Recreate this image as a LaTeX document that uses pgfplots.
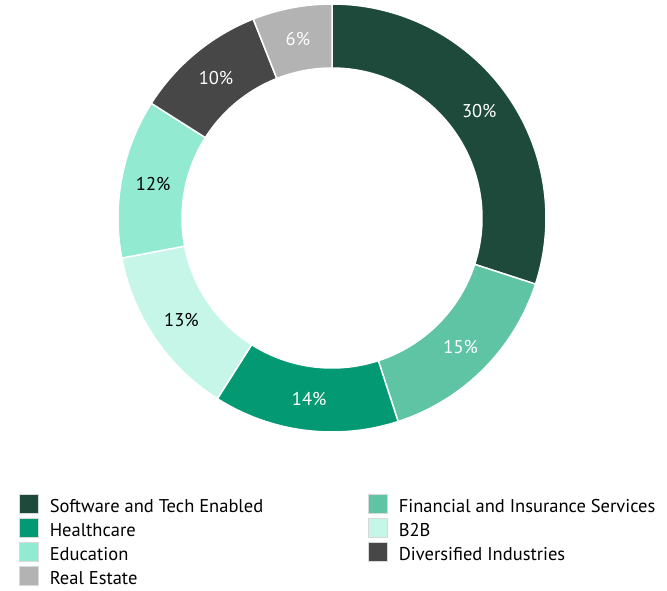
\documentclass[border=0pt]{standalone}
\usepackage{pgfplots}
\usepackage{pgfplotstable}
\usepackage{fontspec}
\setmainfont{PT Sans}
\pgfplotsset{compat=1.18}
\definecolor{c0}{HTML}{1E4A3C}
\definecolor{c1}{HTML}{5EC4A3}
\definecolor{c2}{HTML}{039972}
\definecolor{c3}{HTML}{C6F6E8}
\definecolor{c4}{HTML}{92EAD0}
\definecolor{c5}{HTML}{474747}
\definecolor{c6}{HTML}{B3B3B3}

\pgfplotstableread[col sep=comma]{
name,value,txt
Software and Tech Enabled,30,white
Financial and Insurance Services,15,white
Healthcare,14,white
B2B,13,black
Education,12,black
Diversified Industries,10,white
Real Estate,6,white
}\datatable

\newcommand\cx{332}
\newcommand\cy{372}
\newcommand\Ro{214}
\newcommand\Ri{150}
\newcommand\Rl{182}

\def\cum{0}
\pgfplotsforeachungrouped \i in {0,...,6}{%
  \pgfplotstablegetelem{\i}{value}\of\datatable
  \let\v\pgfplotsretval
  \pgfmathsetmacro\a{90-3.6*\cum}%
  \pgfmathsetmacro\cum{\cum+\v}%
  \pgfmathsetmacro\b{90-3.6*\cum}%
  \pgfmathsetmacro\m{(\a+\b)/2}%
  \expandafter\xdef\csname sa\i\endcsname{\a}%
  \expandafter\xdef\csname sb\i\endcsname{\b}%
  \expandafter\xdef\csname sm\i\endcsname{\m}%
  \expandafter\xdef\csname val\i\endcsname{\v}%
  \pgfplotstablegetelem{\i}{txt}\of\datatable
  \expandafter\xdef\csname tc\i\endcsname{\pgfplotsretval}%
  \pgfplotstablegetelem{\i}{name}\of\datatable
  \expandafter\xdef\csname nm\i\endcsname{\pgfplotsretval}%
}

\begin{document}
\begin{tikzpicture}
\begin{axis}[
  width=667pt, height=590pt, scale only axis,
  xmin=0, xmax=667, ymin=0, ymax=590,
  hide axis, clip=false,
  legend columns=2,
  legend cell align=left,
  legend style={at={(0.0285,0.1645)}, anchor=north west, draw=none, fill=none,
    font=\fontsize{18.5}{20}\selectfont, inner sep=0pt, row sep=3pt,
    nodes={inner sep=0pt, text height=19pt, text depth=2pt},
    /tikz/every odd column/.append style={column sep=11pt},
    /tikz/every even column/.append style={column sep=105pt}},
]
\pgfplotsinvokeforeach{0,...,6}{
  \fill[c#1, draw=white, line width=1.5pt]
    plot[domain=\csname sa#1\endcsname:\csname sb#1\endcsname, samples=80, variable=\t]
      ({\cx+\Ro*cos(\t)},{\cy+\Ro*sin(\t)})
    -- plot[domain=\csname sb#1\endcsname:\csname sa#1\endcsname, samples=80, variable=\t]
      ({\cx+\Ri*cos(\t)},{\cy+\Ri*sin(\t)}) -- cycle;
  \node[text=\csname tc#1\endcsname, font=\fontsize{18.5}{20}\selectfont]
    at ({\cx+\Rl*cos(\csname sm#1\endcsname)},{\cy+\Rl*sin(\csname sm#1\endcsname)})
    {\csname val#1\endcsname\%};
  \addlegendimage{legend image code/.code={\draw[fill=c#1, draw=black!15, line width=0.6pt] (0pt,-9.5pt) rectangle (19pt,9.5pt);}}
  \addlegendentry{\csname nm#1\endcsname}
}
\end{axis}
\pgfresetboundingbox
\useasboundingbox (current axis.south west) rectangle (current axis.north east);
\end{tikzpicture}
\end{document}
